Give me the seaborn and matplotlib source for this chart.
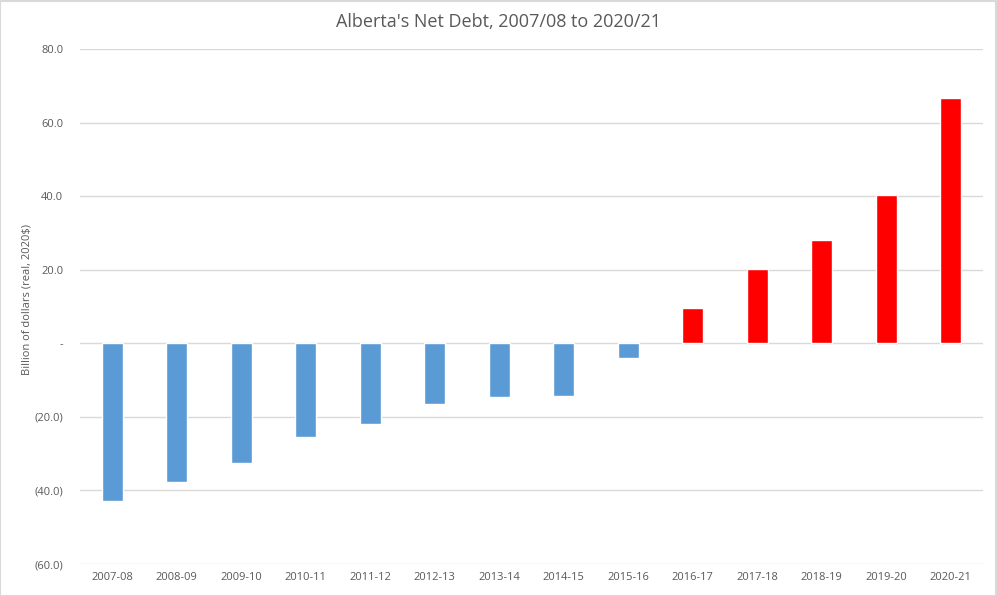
import matplotlib
matplotlib.use("Agg")
import matplotlib.pyplot as plt
import seaborn as sns
import pandas as pd
from matplotlib.patches import Rectangle
from matplotlib.ticker import FuncFormatter

years = ["2007-08", "2008-09", "2009-10", "2010-11", "2011-12", "2012-13", "2013-14",
         "2014-15", "2015-16", "2016-17", "2017-18", "2018-19", "2019-20", "2020-21"]
net_debt = [-42.9, -37.7, -32.6, -25.5, -21.9, -16.6, -14.7,
            -14.4, -4.1, 9.5, 20.3, 28.2, 40.4, 66.8]
bar_colors = ["#5b9bd5"] * 9 + ["#ff0000"] * 5

df = pd.DataFrame({"year": years, "debt": net_debt})

sns.set_style("white")
plt.rcParams["font.family"] = ["Open Sans", "DejaVu Sans"]

fig = plt.figure(figsize=(9.97, 5.96), dpi=100)
ax = fig.add_axes([80 / 997, 1 - 564 / 596, (983 - 80) / 997, (564 - 49) / 596])

sns.barplot(data=df, x="year", y="debt", hue="year", palette=bar_colors,
            legend=False, width=0.33, ax=ax, saturation=1)

ax.set_ylim(-60, 80)
ax.set_xlim(-0.5, len(years) - 0.5)
ax.set_yticks([-60, -40, -20, 0, 20, 40, 60, 80])

def fmt(v, pos):
    if abs(v) < 1e-9:
        return "-"
    if v < 0:
        return "({:.1f})".format(-v)
    return "{:.1f}".format(v)

ax.yaxis.set_major_formatter(FuncFormatter(fmt))
ax.grid(axis="y", color="#d9d9d9", linewidth=1)
ax.set_axisbelow(True)
for s in ax.spines.values():
    s.set_visible(False)
ax.tick_params(axis="both", length=0, labelsize=8, colors="#595959")
ax.tick_params(axis="y", pad=12)
ax.tick_params(axis="x", pad=6)
ax.set_xlabel("")
ax.set_ylabel("Billion of dollars (real, 2020$)", fontsize=8, color="#595959")
ax.yaxis.set_label_coords(-0.0587, 0.513)
ax.yaxis.label.set_va("center")

fig.text(0.5, 1 - 22 / 596, "Alberta's Net Debt, 2007/08 to 2020/21", ha="center", va="center",
         fontsize=13, color="#595959")

fig.patches.append(Rectangle((0.0005, 0.0008), 0.998, 0.998, transform=fig.transFigure,
                             fill=False, edgecolor="#d9d9d9", linewidth=1.5))

fig.savefig("out.png", dpi=100)
